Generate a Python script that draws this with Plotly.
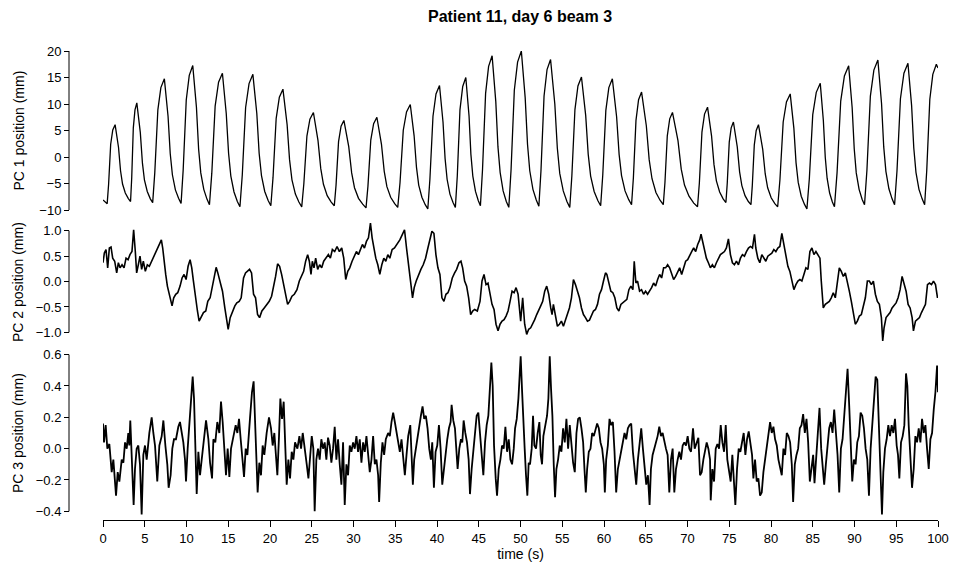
import plotly.graph_objects as go

# ---------------- data ----------------
title_text = "Patient 11, day 6 beam 3"
y_titles = ["PC 1 position (mm)", "PC 2 position (mm)", "PC 3 position (mm)"]
x_title = "time (s)"
x_ticks = list(range(0, 101, 5))
pc1_ticks = [-10, -5, 0, 5, 10, 15, 20]
pc2_ticks = [-1.0, -0.5, 0.0, 0.5, 1.0]
pc3_ticks = [-0.4, -0.2, 0.0, 0.2, 0.4, 0.6]

pc1_points = [
    (0, -8.1), (0.25, -8.5), (0.5, -8.8),
    (0.67, -5.2), (0.92, 2.4), (1.17, 5.1), (1.45, 6.1), (1.86, 1.8), (2.10, -2.6), (2.34, -5.1), (2.67, -6.8), (3.02, -7.8),
    (3.3, -8.4),
    (3.44, -3.9), (3.63, 5.5), (3.83, 8.9), (4.05, 10.2), (4.47, 4.6), (4.72, -1.1), (4.96, -4.3), (5.30, -6.5), (5.67, -7.9),
    (5.95, -8.6),
    (6.2, -3.0), (6.57, 8.9), (6.93, 13.1), (7.35, 14.75), (7.79, 7.7), (8.05, 0.65), (8.31, -3.35), (8.67, -6.2), (9.05, -7.8),
    (9.35, -8.75),
    (9.6, -2.5), (9.97, 10.75), (10.33, 15.4), (10.75, 17.25), (11.19, 9.4), (11.45, 1.5), (11.71, -3.0), (12.07, -6.1), (12.45, -7.95),
    (12.75, -9.0),
    (13.03, -3.05), (13.43, 9.6), (13.84, 14.1), (14.3, 15.8), (14.76, 8.2), (15.04, 0.7), (15.31, -3.6), (15.69, -6.6), (16.09, -8.4),
    (16.4, -9.4),
    (16.68, -3.4), (17.08, 9.35), (17.49, 13.85), (17.95, 15.6), (18.42, 8.2), (18.70, 0.7), (18.98, -3.5), (19.37, -6.5), (19.78, -8.2),
    (20.1, -9.2),
    (20.36, -3.9), (20.74, 7.3), (21.12, 11.3), (21.55, 12.8), (22.05, 6.1), (22.34, -0.5), (22.63, -4.3), (23.04, -7.0), (23.46, -8.5),
    (23.8, -9.4),
    (24.05, -5.1), (24.42, 3.95), (24.78, 7.15), (25.2, 8.4), (25.75, 3.1), (26.08, -2.2), (26.4, -5.15), (26.85, -7.3), (27.33, -8.5),
    (27.7, -9.2),
    (27.91, -5.3), (28.21, 2.9), (28.51, 5.8), (28.85, 6.9), (29.43, 1.95), (29.78, -3.0), (30.12, -5.8), (30.6, -7.8), (31.1, -8.9),
    (31.5, -9.6),
    (31.73, -5.5), (32.07, 3.2), (32.41, 6.3), (32.8, 7.5), (33.35, 2.4), (33.68, -2.7), (34.0, -5.6), (34.45, -7.6), (34.93, -8.8),
    (35.3, -9.5),
    (35.57, -4.85), (35.96, 5.05), (36.35, 8.5), (36.8, 9.9), (37.26, 4.0), (37.54, -1.9), (37.81, -5.3), (38.19, -7.6), (38.59, -9.0),
    (38.9, -9.8),
    (39.15, -4.2), (39.52, 7.7), (39.88, 11.9), (40.3, 13.5), (40.72, 6.6), (40.97, -0.3), (41.21, -4.2), (41.55, -7.0), (41.92, -8.6),
    (42.2, -9.5),
    (42.43, -3.6), (42.75, 8.9), (43.08, 13.3), (43.45, 15.0), (43.84, 7.7), (44.06, 0.5), (44.29, -3.6), (44.61, -6.5), (44.94, -8.2),
    (45.2, -9.2),
    (45.45, -2.4), (45.82, 12.0), (46.18, 17.1), (46.6, 19.1), (47.04, 10.5), (47.3, 1.9), (47.56, -2.9), (47.92, -6.4), (48.3, -8.4),
    (48.6, -9.5),
    (48.87, -2.4), (49.26, 12.6), (49.65, 17.9), (50.1, 20.0), (50.56, 11.2), (50.84, 2.4), (51.11, -2.6), (51.49, -6.1), (51.89, -8.1),
    (52.2, -9.3),
    (52.45, -2.65), (52.82, 11.5), (53.18, 16.5), (53.6, 18.4), (54.11, 10.0), (54.41, 1.7), (54.7, -3.1), (55.12, -6.4), (55.56, -8.4),
    (55.9, -9.5),
    (56.15, -3.6), (56.52, 8.95), (56.88, 13.4), (57.3, 15.1), (57.81, 7.8), (58.11, 0.5), (58.4, -3.6), (58.82, -6.5), (59.26, -8.2),
    (59.6, -9.2),
    (59.85, -3.45), (60.22, 8.8), (60.58, 13.1), (61.0, 14.75), (61.51, 7.6), (61.81, 0.5), (62.1, -3.5), (62.52, -6.4), (62.96, -8.05),
    (63.3, -9.0),
    (63.52, -3.9), (63.83, 6.9), (64.14, 10.8), (64.5, 12.25), (65.07, 5.9), (65.41, -0.5), (65.75, -4.1), (66.22, -6.7), (66.71, -8.15),
    (67.1, -9.0),
    (67.3, -4.8), (67.58, 4.0), (67.87, 7.2), (68.2, 8.4), (68.86, 3.1), (69.25, -2.3), (69.64, -5.3), (70.18, -7.4), (70.75, -8.7),
    (71.2, -9.4),
    (71.42, -4.9), (71.73, 4.7), (72.04, 8.1), (72.4, 9.4), (72.88, 4.0), (73.17, -1.4), (73.46, -4.5), (73.85, -6.6), (74.27, -7.9),
    (74.6, -8.6),
    (74.76, -4.95), (75.0, 2.8), (75.23, 5.5), (75.5, 6.6), (75.96, 1.9), (76.24, -2.8), (76.51, -5.4), (76.89, -7.3), (77.29, -8.4),
    (77.6, -9.0),
    (77.76, -5.4), (78.0, 2.3), (78.23, 5.0), (78.5, 6.1), (79.01, 1.45), (79.31, -3.2), (79.6, -5.8), (80.02, -7.7), (80.46, -8.8),
    (80.8, -9.4),
    (81.07, -4.3), (81.46, 6.6), (81.85, 10.4), (82.3, 11.9), (82.74, 5.4), (83.0, -1.1), (83.26, -4.8), (83.62, -7.4), (84.0, -8.9),
    (84.3, -9.8),
    (84.59, -4.1), (85.0, 8.0), (85.42, 12.2), (85.9, 13.9), (86.27, 6.9), (86.5, -0.1), (86.72, -4.0), (87.02, -6.8), (87.35, -8.5),
    (87.6, -9.4),
    (87.91, -3.0), (88.35, 10.55), (88.79, 15.3), (89.3, 17.2), (89.72, 9.3), (89.97, 1.5), (90.21, -3.0), (90.55, -6.1), (90.92, -8.0),
    (91.2, -9.0),
    (91.49, -2.45), (91.9, 11.5), (92.32, 16.4), (92.8, 18.3), (93.24, 10.1), (93.5, 1.9), (93.76, -2.7), (94.12, -6.0), (94.5, -7.9),
    (94.8, -9.0),
    (95.09, -2.6), (95.5, 11.0), (95.92, 15.8), (96.4, 17.7), (96.84, 9.7), (97.1, 1.7), (97.36, -2.9), (97.72, -6.1), (98.1, -7.9),
    (98.4, -9.0),
    (98.65, -2.6), (99.02, 10.9), (99.38, 15.6), (99.8, 17.5), (100.0, 16.8),
]

pc2_points = [
    (0, 0.37), (0.16, 0.56), (0.36, 0.63), (0.56, 0.27), (0.76, 0.66), (0.96, 0.68), (1.16, 0.46), (1.4, 0.4),
    (1.64, 0.17), (1.84, 0.37), (2.04, 0.27), (2.28, 0.33), (2.52, 0.27), (2.76, 0.46), (3.0, 0.43), (3.23, 0.53),
    (3.47, 0.59), (3.67, 1.02), (3.87, 0.59), (4.03, 0.17), (4.23, 0.33), (4.43, 0.5), (4.63, 0.24), (4.83, 0.4),
    (5.07, 0.2), (5.31, 0.33), (5.55, 0.3), (5.83, 0.4), (6.11, 0.53), (6.43, 0.63), (6.71, 0.73), (6.99, 0.82),
    (7.15, 0.66), (7.31, 0.4), (7.51, 0.14), (7.71, -0.09), (7.91, -0.25), (8.11, -0.42), (8.27, -0.48), (8.47, -0.32),
    (8.71, -0.25), (8.95, -0.22), (9.23, -0.09), (9.47, 0.07), (9.71, 0.14), (9.95, 0.04), (10.19, 0.3), (10.43, 0.43),
    (10.63, 0.27), (10.83, 0.01), (11.07, -0.32), (11.31, -0.58), (11.51, -0.78), (11.75, -0.71), (12.03, -0.61), (12.31, -0.58),
    (12.55, -0.39), (12.83, -0.32), (13.07, -0.12), (13.31, 0.04), (13.55, 0.28), (13.75, 0.17), (14.03, 0.01), (14.31, -0.19),
    (14.59, -0.52), (14.83, -0.78), (14.99, -0.94), (15.23, -0.71), (15.51, -0.58), (15.79, -0.48), (16.03, -0.42), (16.31, -0.39),
    (16.55, -0.32), (16.83, 0.07), (17.07, 0.17), (17.31, 0.2), (17.55, 0.24), (17.79, 0.17), (18.03, -0.25), (18.27, -0.32),
    (18.51, -0.65), (18.75, -0.71), (19.03, -0.58), (19.31, -0.52), (19.63, -0.45), (19.91, -0.39), (20.19, -0.29), (20.43, -0.12),
    (20.67, 0.1), (20.91, 0.35), (21.15, 0.3), (21.39, 0.14), (21.63, -0.06), (21.87, -0.32), (22.11, -0.45), (22.35, -0.39),
    (22.63, -0.29), (22.91, -0.25), (23.23, -0.16), (23.51, 0.01), (23.79, 0.1), (24.03, 0.2), (24.27, 0.4), (24.51, 0.53),
    (24.71, 0.4), (24.91, 0.14), (25.07, 0.4), (25.27, 0.27), (25.47, 0.46), (25.71, 0.24), (25.95, 0.33), (26.19, 0.27),
    (26.43, 0.4), (26.71, 0.46), (26.99, 0.53), (27.23, 0.46), (27.47, 0.63), (27.75, 0.59), (28.03, 0.69), (28.31, 0.59),
    (28.59, 0.66), (28.83, 0.46), (29.07, 0.04), (29.31, 0.2), (29.55, 0.27), (29.83, 0.4), (30.11, 0.5), (30.35, 0.59),
    (30.59, 0.53), (30.83, 0.63), (31.07, 0.73), (31.31, 0.66), (31.55, 0.79), (31.79, 0.86), (32.03, 1.15), (32.23, 0.86),
    (32.43, 0.66), (32.67, 0.46), (32.91, 0.33), (33.15, 0.14), (33.39, 0.33), (33.63, 0.46), (33.87, 0.4), (34.11, 0.53),
    (34.35, 0.46), (34.63, 0.63), (34.91, 0.66), (35.23, 0.73), (35.55, 0.82), (35.83, 0.92), (36.11, 1.02), (36.35, 0.66),
    (36.59, 0.27), (36.83, 0.01), (37.07, -0.32), (37.27, -0.12), (37.51, 0.01), (37.79, 0.14), (38.07, 0.24), (38.35, 0.33),
    (38.63, 0.46), (38.91, 0.66), (39.15, 0.86), (39.39, 0.99), (39.63, 0.95), (39.87, 0.53), (40.11, 0.27), (40.35, 0.14),
    (40.59, -0.32), (40.83, -0.39), (41.07, -0.25), (41.31, -0.22), (41.55, -0.12), (41.83, 0.07), (42.11, 0.17), (42.35, 0.24),
    (42.63, 0.37), (42.87, 0.4), (43.07, 0.27), (43.31, 0.01), (43.55, -0.09), (43.79, -0.32), (44.03, -0.65), (44.27, -0.58),
    (44.51, -0.55), (44.83, -0.58), (45.15, -0.39), (45.39, 0.01), (45.63, 0.14), (45.87, -0.06), (46.11, -0.03), (46.35, -0.25),
    (46.59, -0.45), (46.83, -0.55), (47.07, -0.84), (47.31, -0.97), (47.55, -0.84), (47.79, -0.78), (48.03, -0.75), (48.27, -0.68),
    (48.51, -0.58), (48.75, -0.39), (48.99, -0.19), (49.23, -0.22), (49.47, -0.12), (49.71, -0.25), (50.02, -0.78), (50.26, -0.32),
    (50.5, -0.84), (50.74, -1.04), (50.98, -0.94), (51.22, -0.91), (51.46, -0.84), (51.7, -0.75), (51.94, -0.65), (52.18, -0.58),
    (52.42, -0.48), (52.66, -0.39), (52.9, -0.19), (53.14, -0.09), (53.38, -0.25), (53.62, -0.52), (53.78, -0.65), (53.94, -0.45),
    (54.18, -0.71), (54.42, -0.88), (54.66, -0.84), (54.9, -0.78), (55.14, -0.88), (55.38, -0.75), (55.62, -0.65), (55.86, -0.52),
    (56.1, -0.32), (56.34, 0.04), (56.58, -0.06), (56.82, -0.19), (57.06, -0.32), (57.3, -0.52), (57.54, -0.65), (57.78, -0.71),
    (58.02, -0.78), (58.26, -0.76), (58.5, -0.65), (58.74, -0.58), (58.98, -0.55), (59.22, -0.45), (59.46, -0.25), (59.7, -0.16),
    (59.94, 0.01), (60.18, 0.17), (60.34, 0.14), (60.58, -0.03), (60.82, -0.19), (61.06, -0.22), (61.3, -0.32), (61.54, -0.52),
    (61.78, -0.58), (62.02, -0.45), (62.26, -0.42), (62.5, -0.39), (62.74, -0.35), (62.98, -0.16), (63.22, -0.09), (63.46, -0.16),
    (63.62, 0.4), (63.82, -0.03), (64.02, 0.01), (64.26, -0.19), (64.5, -0.16), (64.74, -0.25), (64.98, -0.19), (65.22, -0.25),
    (65.46, -0.19), (65.7, -0.12), (65.94, -0.03), (66.18, -0.09), (66.42, 0.04), (66.66, 0.14), (66.9, 0.07), (67.14, 0.27),
    (67.38, 0.27), (67.62, 0.33), (67.86, 0.27), (68.1, 0.17), (68.34, 0.04), (68.58, 0.1), (68.82, 0.2), (69.06, 0.27),
    (69.3, 0.14), (69.54, 0.27), (69.78, 0.4), (70.02, 0.43), (70.26, 0.53), (70.5, 0.59), (70.74, 0.66), (70.98, 0.59),
    (71.22, 0.73), (71.46, 0.82), (71.62, 0.93), (71.82, 0.76), (72.02, 0.59), (72.26, 0.46), (72.5, 0.37), (72.74, 0.27),
    (72.98, 0.33), (73.22, 0.27), (73.46, 0.37), (73.7, 0.46), (73.94, 0.53), (74.18, 0.56), (74.42, 0.59), (74.66, 0.66),
    (74.9, 0.84), (75.14, 0.53), (75.38, 0.37), (75.62, 0.33), (75.86, 0.4), (76.1, 0.33), (76.34, 0.46), (76.58, 0.53),
    (76.82, 0.5), (77.06, 0.59), (77.3, 0.66), (77.54, 0.69), (77.78, 0.66), (78.02, 0.93), (78.18, 0.66), (78.42, 0.46),
    (78.66, 0.37), (78.9, 0.53), (79.14, 0.46), (79.38, 0.4), (79.62, 0.5), (79.86, 0.53), (80.1, 0.56), (80.34, 0.63),
    (80.58, 0.59), (80.82, 0.66), (81.06, 0.69), (81.3, 0.95), (81.54, 0.73), (81.78, 0.46), (82.02, 0.3), (82.26, 0.2),
    (82.5, 0.01), (82.74, -0.16), (82.98, -0.06), (83.22, 0.01), (83.46, 0.04), (83.7, 0.01), (83.94, 0.14), (84.18, 0.27),
    (84.42, 0.24), (84.66, 0.59), (84.9, 0.66), (85.14, 0.53), (85.38, 0.59), (85.62, 0.53), (85.86, 0.46), (86.02, 0.01),
    (86.26, -0.52), (86.5, -0.45), (86.74, -0.42), (86.98, -0.39), (87.22, -0.32), (87.46, -0.22), (87.7, -0.32), (87.94, 0.01),
    (88.18, 0.27), (88.42, 0.2), (88.66, 0.1), (88.9, 0.17), (89.14, 0.01), (89.38, -0.19), (89.62, -0.39), (89.86, -0.58),
    (90.1, -0.84), (90.34, -0.78), (90.58, -0.68), (90.82, -0.65), (91.06, -0.48), (91.3, -0.32), (91.54, 0.01), (91.78, 0.01),
    (92.02, -0.06), (92.26, 0.01), (92.5, -0.25), (92.74, -0.39), (92.98, -0.45), (93.22, -0.71), (93.38, -1.17), (93.54, -0.91),
    (93.78, -0.71), (94.02, -0.65), (94.26, -0.61), (94.5, -0.52), (94.74, -0.48), (94.98, -0.42), (95.22, -0.32), (95.46, -0.16),
    (95.7, 0.1), (95.94, -0.06), (96.18, -0.19), (96.42, -0.45), (96.66, -0.52), (96.9, -0.71), (97.06, -0.97), (97.3, -0.78),
    (97.54, -0.75), (97.78, -0.71), (98.02, -0.61), (98.26, -0.52), (98.5, -0.45), (98.74, -0.06), (98.98, -0.03), (99.22, -0.06),
    (99.46, 0.01), (99.7, -0.06), (99.94, -0.32), (100.0, -0.29),
]

pc3_points = [
    (0.0, 0.16), (0.12, 0.04), (0.32, 0.15), (0.52, 0.0), (0.76, 0.03), (1.04, -0.15), (1.24, -0.07), (1.44, -0.23),
    (1.56, -0.3), (1.76, -0.15), (1.96, -0.21), (2.24, -0.07), (2.44, -0.09), (2.64, 0.04), (2.84, 0.0), (3.03, 0.1),
    (3.15, 0.02), (3.27, 0.18), (3.47, -0.15), (3.67, -0.36), (3.83, -0.13), (4.03, 0.0), (4.23, 0.02), (4.43, -0.1),
    (4.63, -0.42), (4.83, -0.04), (5.03, 0.02), (5.23, -0.07), (5.55, 0.1), (5.83, 0.2), (6.03, 0.1), (6.23, 0.02),
    (6.5, -0.21), (6.75, 0.02), (7.03, 0.08), (7.23, 0.18), (7.47, 0.02), (7.7, -0.1), (7.86, -0.25), (8.1, -0.17),
    (8.3, 0.0), (8.5, 0.06), (8.74, 0.06), (9.02, 0.14), (9.22, 0.17), (9.42, 0.1), (9.62, 0.04), (9.82, -0.07),
    (9.94, -0.21), (10.14, 0.0), (10.34, 0.15), (10.54, 0.32), (10.74, 0.46), (10.9, 0.32), (11.06, -0.09), (11.22, -0.29),
    (11.42, -0.02), (11.62, -0.17), (11.82, -0.07), (12.1, 0.08), (12.34, 0.18), (12.62, 0.06), (12.82, -0.09), (13.06, -0.19),
    (13.22, 0.06), (13.45, 0.04), (13.69, 0.17), (13.93, 0.1), (14.13, 0.3), (14.33, 0.17), (14.53, -0.02), (14.73, -0.17),
    (14.93, 0.0), (15.13, -0.18), (15.33, 0.0), (15.61, 0.08), (15.89, 0.15), (16.09, 0.1), (16.29, 0.19), (16.49, 0.06),
    (16.73, -0.07), (16.89, -0.18), (17.09, 0.0), (17.29, -0.04), (17.6, 0.19), (17.84, 0.36), (18.04, 0.43), (18.2, 0.21),
    (18.36, -0.1), (18.52, -0.28), (18.72, -0.09), (18.92, -0.17), (19.12, 0.02), (19.32, -0.04), (19.6, 0.1), (19.88, 0.2),
    (20.12, 0.13), (20.32, 0.02), (20.52, 0.1), (20.72, -0.09), (20.88, -0.17), (21.08, 0.08), (21.24, 0.32), (21.44, 0.19),
    (21.64, 0.3), (21.84, 0.0), (22.0, -0.23), (22.2, -0.07), (22.4, -0.19), (22.6, -0.02), (22.8, -0.07), (23.0, 0.04),
    (23.28, 0.0), (23.52, 0.08), (23.72, 0.0), (23.92, 0.1), (24.16, -0.02), (24.4, -0.1), (24.6, -0.19), (24.8, -0.07),
    (25.0, 0.08), (25.19, 0.0), (25.35, -0.4), (25.55, -0.07), (25.75, 0.0), (25.95, -0.07), (26.15, 0.06), (26.35, 0.0),
    (26.55, 0.04), (26.75, -0.07), (26.95, 0.07), (27.15, 0.02), (27.35, -0.09), (27.55, 0.0), (27.75, 0.14), (27.95, -0.07),
    (28.15, 0.06), (28.35, -0.1), (28.55, -0.23), (28.75, 0.04), (28.95, -0.36), (29.15, -0.1), (29.35, -0.17), (29.55, 0.02),
    (29.75, -0.02), (29.95, 0.04), (30.15, 0.0), (30.35, 0.08), (30.55, -0.02), (30.75, 0.06), (30.95, -0.09), (31.15, 0.04),
    (31.35, -0.02), (31.55, 0.08), (31.75, -0.04), (31.95, -0.15), (32.15, -0.07), (32.35, 0.08), (32.55, -0.1), (32.75, -0.07),
    (32.95, -0.17), (33.07, -0.34), (33.27, -0.09), (33.47, 0.04), (33.67, -0.04), (33.87, 0.06), (34.15, 0.1), (34.35, 0.08),
    (34.55, 0.17), (34.75, 0.23), (34.95, 0.17), (35.15, 0.1), (35.35, 0.06), (35.55, -0.02), (35.75, 0.06), (35.95, -0.07),
    (36.15, -0.17), (36.35, -0.04), (36.55, 0.08), (36.8, 0.15), (36.95, -0.09), (37.11, -0.23), (37.27, -0.07), (37.47, 0.0),
    (37.67, 0.08), (37.87, 0.17), (38.07, 0.21), (38.27, 0.27), (38.47, 0.19), (38.67, 0.21), (38.87, 0.13), (39.07, 0.0),
    (39.27, -0.07), (39.43, 0.04), (39.63, -0.25), (39.83, -0.02), (40.03, 0.02), (40.23, 0.15), (40.43, 0.0), (40.63, -0.23),
    (40.83, -0.13), (41.03, 0.0), (41.23, 0.06), (41.43, 0.13), (41.63, 0.17), (41.75, 0.28), (41.95, 0.18), (42.15, 0.13),
    (42.31, 0.0), (42.47, -0.13), (42.67, 0.0), (42.87, 0.06), (43.03, 0.04), (43.19, 0.18), (43.39, 0.1), (43.59, 0.04),
    (43.79, -0.07), (43.95, -0.29), (44.15, -0.13), (44.35, 0.0), (44.55, 0.08), (44.75, 0.21), (44.95, 0.23), (45.15, 0.1),
    (45.35, -0.02), (45.55, -0.17), (45.75, 0.04), (45.95, 0.15), (46.15, 0.21), (46.35, 0.4), (46.51, 0.55), (46.67, 0.4),
    (46.83, 0.02), (47.03, -0.19), (47.19, -0.3), (47.39, -0.13), (47.59, -0.07), (47.79, 0.02), (47.99, 0.0), (48.19, 0.14),
    (48.39, -0.02), (48.59, 0.06), (48.79, -0.07), (48.99, -0.1), (49.19, 0.0), (49.35, 0.13), (49.55, 0.19), (49.75, 0.32),
    (49.9, 0.5), (50.02, 0.59), (50.18, 0.38), (50.34, 0.13), (50.5, 0.0), (50.66, -0.17), (50.82, -0.3), (50.98, -0.09),
    (51.14, -0.1), (51.34, 0.0), (51.5, 0.21), (51.66, 0.02), (51.86, 0.0), (52.06, 0.1), (52.26, 0.17), (52.42, -0.04),
    (52.58, -0.1), (52.74, 0.08), (52.98, 0.15), (53.18, 0.21), (53.34, 0.32), (53.5, 0.59), (53.66, 0.38), (53.82, 0.21),
    (53.98, -0.1), (54.14, -0.31), (54.3, -0.13), (54.5, -0.07), (54.7, 0.02), (54.9, -0.02), (55.1, 0.13), (55.3, 0.04),
    (55.5, 0.19), (55.7, 0.0), (55.9, 0.15), (56.1, 0.0), (56.3, -0.09), (56.5, -0.15), (56.7, 0.1), (56.9, 0.19),
    (57.1, 0.2), (57.3, 0.13), (57.5, 0.04), (57.66, -0.13), (57.82, -0.28), (57.98, -0.13), (58.18, -0.02), (58.38, 0.0),
    (58.58, 0.1), (58.78, 0.08), (58.98, 0.13), (59.18, 0.16), (59.38, 0.13), (59.58, 0.04), (59.78, 0.0), (59.98, -0.1),
    (60.1, -0.28), (60.26, -0.07), (60.46, 0.02), (60.66, 0.19), (60.86, 0.15), (61.06, 0.17), (61.26, -0.02), (61.46, -0.28),
    (61.66, -0.13), (61.86, -0.07), (62.06, 0.0), (62.26, 0.06), (62.46, 0.1), (62.66, 0.06), (62.86, 0.13), (63.06, 0.15),
    (63.26, 0.16), (63.46, -0.02), (63.66, -0.13), (63.86, -0.23), (64.06, -0.07), (64.26, 0.02), (64.46, 0.13), (64.66, 0.0),
    (64.86, -0.1), (65.06, -0.23), (65.26, -0.17), (65.46, -0.36), (65.62, -0.13), (65.82, -0.04), (66.02, 0.0), (66.22, 0.04),
    (66.42, 0.08), (66.62, 0.14), (66.82, 0.08), (67.02, 0.1), (67.22, 0.04), (67.42, 0.0), (67.62, -0.04), (67.82, -0.28),
    (68.02, -0.07), (68.22, 0.0), (68.42, -0.28), (68.62, -0.13), (68.82, -0.07), (69.02, -0.02), (69.22, -0.07), (69.42, 0.02),
    (69.62, 0.04), (69.82, 0.02), (70.02, 0.08), (70.22, 0.0), (70.42, -0.02), (70.66, 0.13), (70.86, 0.0), (71.06, 0.04),
    (71.3, 0.07), (71.5, -0.17), (71.7, -0.15), (71.9, -0.07), (72.1, 0.0), (72.3, 0.04), (72.5, 0.0), (72.7, -0.07),
    (72.78, -0.33), (72.98, -0.13), (73.18, -0.21), (73.38, 0.0), (73.58, 0.03), (73.78, 0.0), (73.98, 0.15), (74.18, 0.04),
    (74.38, -0.02), (74.58, 0.15), (74.77, -0.07), (74.97, -0.15), (75.17, -0.21), (75.37, -0.04), (75.57, -0.25), (75.73, -0.36),
    (75.93, -0.13), (76.13, 0.0), (76.33, -0.02), (76.53, 0.04), (76.73, 0.1), (76.93, -0.04), (77.13, 0.06), (77.33, 0.11),
    (77.53, 0.04), (77.73, -0.04), (77.89, -0.19), (78.09, -0.07), (78.29, -0.21), (78.49, -0.19), (78.69, -0.3), (78.89, -0.28),
    (79.09, -0.15), (79.29, -0.07), (79.49, 0.0), (79.69, 0.06), (79.89, 0.17), (80.09, 0.1), (80.29, 0.14), (80.49, 0.06),
    (80.69, 0.02), (80.89, -0.07), (81.09, -0.13), (81.29, -0.17), (81.49, 0.0), (81.69, -0.04), (81.89, 0.1), (82.09, 0.08),
    (82.29, 0.04), (82.49, -0.1), (82.65, -0.34), (82.85, -0.1), (83.05, -0.04), (83.25, 0.0), (83.45, 0.13), (83.65, 0.15),
    (83.85, 0.22), (84.05, 0.1), (84.25, 0.19), (84.45, 0.04), (84.65, -0.21), (84.85, -0.13), (85.05, -0.04), (85.21, -0.22),
    (85.41, -0.07), (85.61, 0.1), (85.81, 0.26), (86.01, 0.0), (86.21, -0.13), (86.37, -0.23), (86.57, -0.1), (86.77, 0.02),
    (86.97, 0.13), (87.17, 0.17), (87.37, 0.1), (87.57, 0.25), (87.77, 0.1), (87.97, -0.04), (88.17, -0.28), (88.37, 0.0),
    (88.57, 0.06), (88.77, 0.21), (88.97, 0.3), (89.17, 0.51), (89.37, 0.27), (89.57, -0.02), (89.73, -0.21), (89.93, -0.07),
    (90.13, -0.1), (90.33, 0.04), (90.53, 0.08), (90.73, 0.23), (90.93, 0.21), (91.13, 0.13), (91.33, 0.0), (91.53, -0.07),
    (91.73, -0.3), (91.93, 0.0), (92.13, 0.15), (92.33, 0.25), (92.53, 0.46), (92.73, 0.44), (92.93, 0.1), (93.13, -0.21),
    (93.29, -0.42), (93.45, -0.15), (93.65, 0.0), (93.85, 0.06), (94.05, 0.15), (94.25, 0.08), (94.45, 0.15), (94.65, 0.1),
    (94.85, 0.19), (95.05, 0.02), (95.21, -0.04), (95.37, -0.19), (95.57, 0.04), (95.77, 0.08), (95.97, 0.15), (96.17, 0.48),
    (96.33, 0.4), (96.49, 0.15), (96.69, -0.04), (96.89, -0.25), (97.09, -0.13), (97.29, 0.08), (97.49, 0.04), (97.69, 0.13),
    (97.89, 0.04), (98.09, 0.19), (98.29, 0.1), (98.49, 0.15), (98.69, 0.0), (98.89, -0.13), (99.09, 0.06), (99.29, 0.1),
    (99.49, 0.25), (99.69, 0.36), (99.89, 0.53), (100.0, 0.36),
]

# ---------------- figure ----------------
FONT = "Liberation Sans, Arial, Helvetica, sans-serif"
W, H = 954, 564
TICK_SIZE = 13
LABEL_SIZE = 14

fig = go.Figure()
for pts, ax, lw in [(pc1_points, "y", 1.3), (pc2_points, "y2", 1.6), (pc3_points, "y3", 1.8)]:
    t, v = zip(*pts)
    fig.add_trace(go.Scatter(x=list(t), y=list(v), mode="lines", yaxis=ax, xaxis="x",
                             line=dict(color="black", width=lw), hoverinfo="skip",
                             showlegend=False))

yaxis_pos = 69 / W
common_y = dict(anchor="free", position=yaxis_pos, showgrid=False, zeroline=False,
                showline=False, ticks="outside", ticklen=5, tickwidth=1, tickcolor="black",
                automargin=False,
                tickfont=dict(family=FONT, size=TICK_SIZE, color="black"))

fig.update_layout(
    template="none",
    width=W, height=H, autosize=False,
    margin=dict(l=0, r=0, t=0, b=0, pad=0),
    paper_bgcolor="white", plot_bgcolor="white",
    font=dict(family=FONT, size=TICK_SIZE, color="black"),
    title=dict(text="<b>" + title_text + "</b>", x=520 / W, xanchor="center",
               y=1 - 16 / H, yanchor="middle", font=dict(family=FONT, size=16, color="black")),
    xaxis=dict(domain=[103 / W, 938 / W], range=[0, 100], anchor="free", position=44 / H,
               tickvals=x_ticks, ticks="outside", ticklen=6, tickwidth=1, tickcolor="black",
               showline=True, linecolor="black", linewidth=1, showgrid=False, zeroline=False,
               automargin=False,
               tickfont=dict(family=FONT, size=TICK_SIZE, color="black"),
               title=dict(text=x_title, font=dict(family=FONT, size=LABEL_SIZE, color="black"), standoff=2)),
    yaxis=dict(domain=[(H - 210) / H, (H - 51) / H], range=[-10, 20], tickvals=pc1_ticks, **common_y),
    yaxis2=dict(domain=[(H - 342.5) / H, (H - 222.1) / H], range=[-1.2, 1.17], tickvals=pc2_ticks,
                tickformat=".1f", **common_y),
    yaxis3=dict(domain=[(H - 516) / H, (H - 353.1) / H], range=[-0.43, 0.61], tickvals=pc3_ticks,
                tickformat=".1f", **common_y),
)

# y axis lines spanning the tick extent
for yref, lo, hi in [("y", -10, 20), ("y2", -1.0, 1.0), ("y3", -0.4, 0.6)]:
    fig.add_shape(type="line", xref="paper", yref=yref, x0=yaxis_pos, x1=yaxis_pos, y0=lo, y1=hi,
                  line=dict(color="black", width=1))

# y axis titles
for txt, yc in zip(y_titles, [130.5, 282, 433]):
    fig.add_annotation(text=txt, xref="paper", yref="paper", x=18 / W, y=1 - yc / H,
                       textangle=-90, showarrow=False, xanchor="center", yanchor="middle",
                       font=dict(family=FONT, size=LABEL_SIZE, color="black"))

fig.write_html("out.html", config={"displayModeBar": False, "responsive": False},
               post_script="document.body.style.margin='0px';document.body.style.overflow='hidden';")
